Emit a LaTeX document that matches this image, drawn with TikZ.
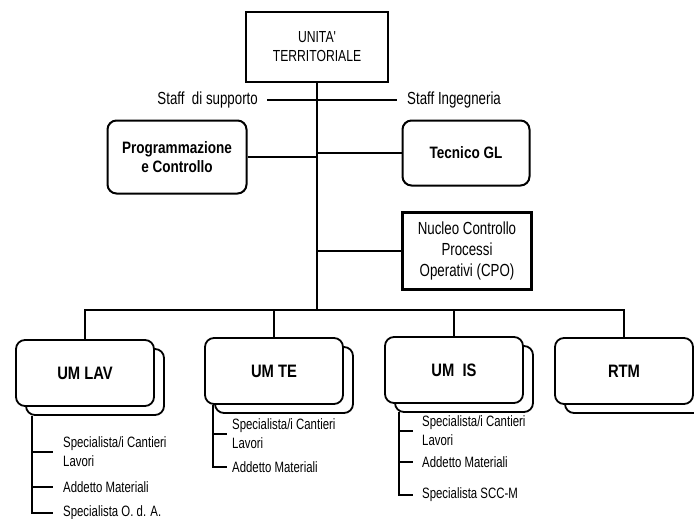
\documentclass[tikz,border=0pt]{standalone}
\usepackage{fontspec}
\setmainfont{Liberation Sans}[FakeStretch=0.82]
\newfontfamily\narrowfont{Liberation Sans}[FakeStretch=0.76]
\usetikzlibrary{positioning}
\usetikzlibrary{shadows}

\tikzset{
  headbox/.style={draw, line width=2.2pt, minimum width=142pt, minimum height=70pt, align=center, font=\narrowfont\fontsize{16}{19}\selectfont},
  staffbox/.style={draw, line width=2pt, rounded corners=9pt, align=center, fill=white, font=\bfseries\fontsize{16.5}{19}\selectfont},
  nucleobox/.style={draw, line width=2.2pt, minimum width=129pt, minimum height=77pt, align=center, font=\narrowfont\fontsize{17.5}{21}\selectfont},
  umbox/.style={staffbox, minimum width=138pt, minimum height=66pt, line width=1.8pt, font=\bfseries\fontsize{18}{20}\selectfont,
    general shadow={shadow xshift=10pt, shadow yshift=-9pt, fill=white, draw=black, line width=1.8pt}},
  stafftext/.style={inner sep=0pt, font=\narrowfont\fontsize{17.5}{19}\selectfont},
  item/.style={anchor=west, inner sep=0pt, align=left, font=\narrowfont\fontsize{15}{19}\selectfont},
  link/.style={line width=1.1pt},
}

\begin{document}
\begin{tikzpicture}[x=1pt, y=-1pt]
  \useasboundingbox (0,0) rectangle (694,519);

  % vertice
  \node[headbox] (ut) at (317,47) {UNITA'\\TERRITORIALE};
  \coordinate (bar) at (317,310);
  \draw[link] (ut.south) -- (bar);

  % staff
  \node[stafftext, anchor=east] (supporto) at (258,100) {Staff\ \ di supporto};
  \node[stafftext, anchor=west] (ingegneria) at (407,100) {Staff Ingegneria};
  \draw[line width=2.4pt, shorten <=9pt] (supporto.east) -- (supporto.east -| ut.south);
  \draw[link, shorten >=10pt] (supporto.east -| ut.south) -- (ingegneria.west);

  \node[staffbox, minimum width=139pt, minimum height=73pt] (prog) at (177,157) {Programmazione\\e Controllo};
  \node[staffbox, minimum width=127pt, minimum height=65pt] (tecnico) at (466,153) {Tecnico GL};
  \draw[link] (prog.east) -- (prog.east -| ut.south);
  \draw[link] (tecnico.west) -- (tecnico.west -| ut.south);

  \node[nucleobox] (nucleo) at (467,251) {Nucleo Controllo\\Processi\\Operativi (CPO)};
  \draw[link] (nucleo.west) -- (nucleo.west -| ut.south);

  % unita' di manutenzione
  \node[umbox] (umlav) at (85,373) {UM LAV};
  \node[umbox] (umte) at (274,371) {UM TE};
  \node[umbox] (umis) at (454,370) {UM~ IS};
  \node[umbox] (rtm) at (624,371) {RTM};

  \draw[link] (umlav.north) |- (rtm.north |- bar) -- (rtm.north);
  \draw[link] (umte.north) -- (umte.north |- bar);
  \draw[link] (umis.north) -- (umis.north |- bar);

  % UM LAV
  \coordinate (lavtop) at (32,416);
  \node[item] (lav1) at (63,452) {Specialista/i Cantieri\\Lavori};
  \node[item] (lav2) at (63,487) {Addetto Materiali};
  \node[item] (lav3) at (63,513) {Specialista O. d. A.};
  \draw[link, shorten >=10pt] (lavtop) |- (lav3.west);
  \draw[link, shorten >=10pt] (lavtop |- lav1.west) -- (lav1.west);
  \draw[link, shorten >=10pt] (lavtop |- lav2.west) -- (lav2.west);

  % UM TE
  \coordinate (tetop) at (213,405);
  \node[item] (te1) at (232,434) {Specialista/i Cantieri\\Lavori};
  \node[item] (te2) at (232,467) {Addetto Materiali};
  \draw[link, shorten >=5pt] (tetop) |- (te2.west);
  \draw[link, shorten >=5pt] (tetop |- te1.west) -- (te1.west);

  % UM IS
  \coordinate (istop) at (399,412);
  \node[item] (is1) at (422,431) {Specialista/i Cantieri\\Lavori};
  \node[item] (is2) at (422,462) {Addetto Materiali};
  \node[item] (is3) at (422,495) {Specialista SCC-M};
  \draw[link, shorten >=9pt] (istop) |- (is3.west);
  \draw[link, shorten >=9pt] (istop |- is1.west) -- (is1.west);
  \draw[link, shorten >=9pt] (istop |- is2.west) -- (is2.west);
\end{tikzpicture}
\end{document}
